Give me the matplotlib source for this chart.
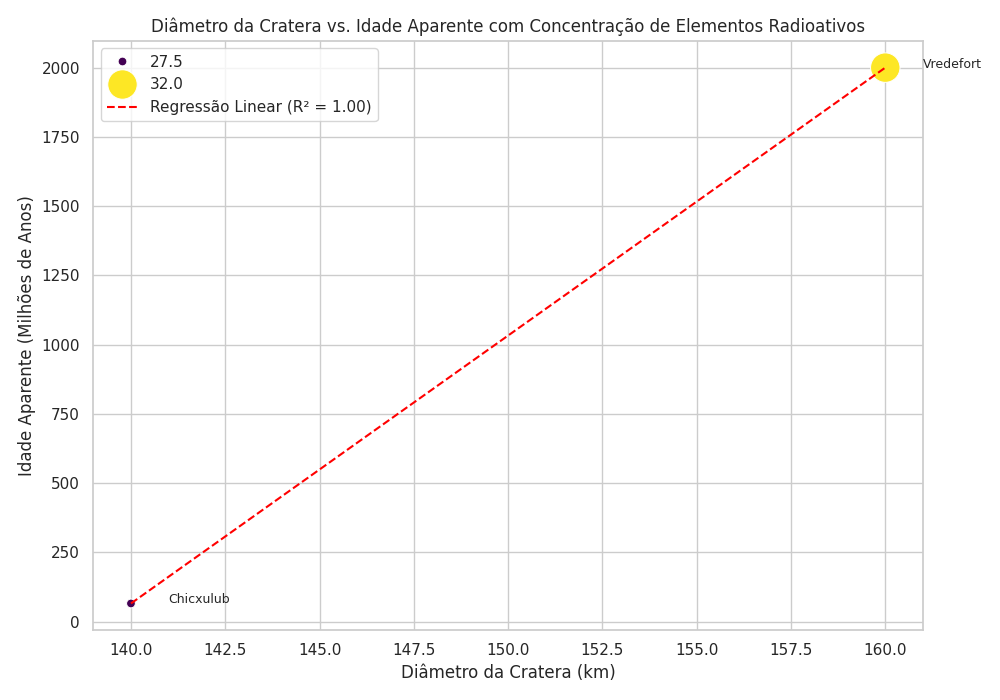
import numpy as np
import pandas as pd
import matplotlib
matplotlib.use("Agg")
import matplotlib.pyplot as plt
import seaborn as sns

craters = ["Chicxulub", "Vredefort"]
diametro = [140, 160]
idade = [66, 2000]
concentracao = [27.5, 32.0]

df = pd.DataFrame({"Cratera": craters, "Diametro": diametro,
                   "Idade": idade, "Concentracao": concentracao})

sns.set_theme(style="whitegrid")
fig = plt.figure(figsize=(10, 7), dpi=100)

sns.scatterplot(data=df, x="Diametro", y="Idade", hue="Concentracao",
                size="Concentracao", sizes=(40, 450), palette="viridis")

for i in range(len(df)):
    plt.text(df.Diametro[i] + 1, df.Idade[i], df.Cratera[i], fontsize=9)

# regressao linear
coef = np.polyfit(df.Diametro, df.Idade, 1)
pred = np.polyval(coef, df.Diametro)
ss_res = np.sum((df.Idade - pred) ** 2)
ss_tot = np.sum((df.Idade - df.Idade.mean()) ** 2)
r2 = 1 - ss_res / ss_tot
plt.plot(df.Diametro, pred, "--", color="red", label=f"Regressão Linear (R² = {r2:.2f})")

plt.title("Diâmetro da Cratera vs. Idade Aparente com Concentração de Elementos Radioativos")
plt.xlabel("Diâmetro da Cratera (km)")
plt.ylabel("Idade Aparente (Milhões de Anos)")
plt.legend(loc="upper left")
plt.tight_layout()
plt.savefig("out.png")
